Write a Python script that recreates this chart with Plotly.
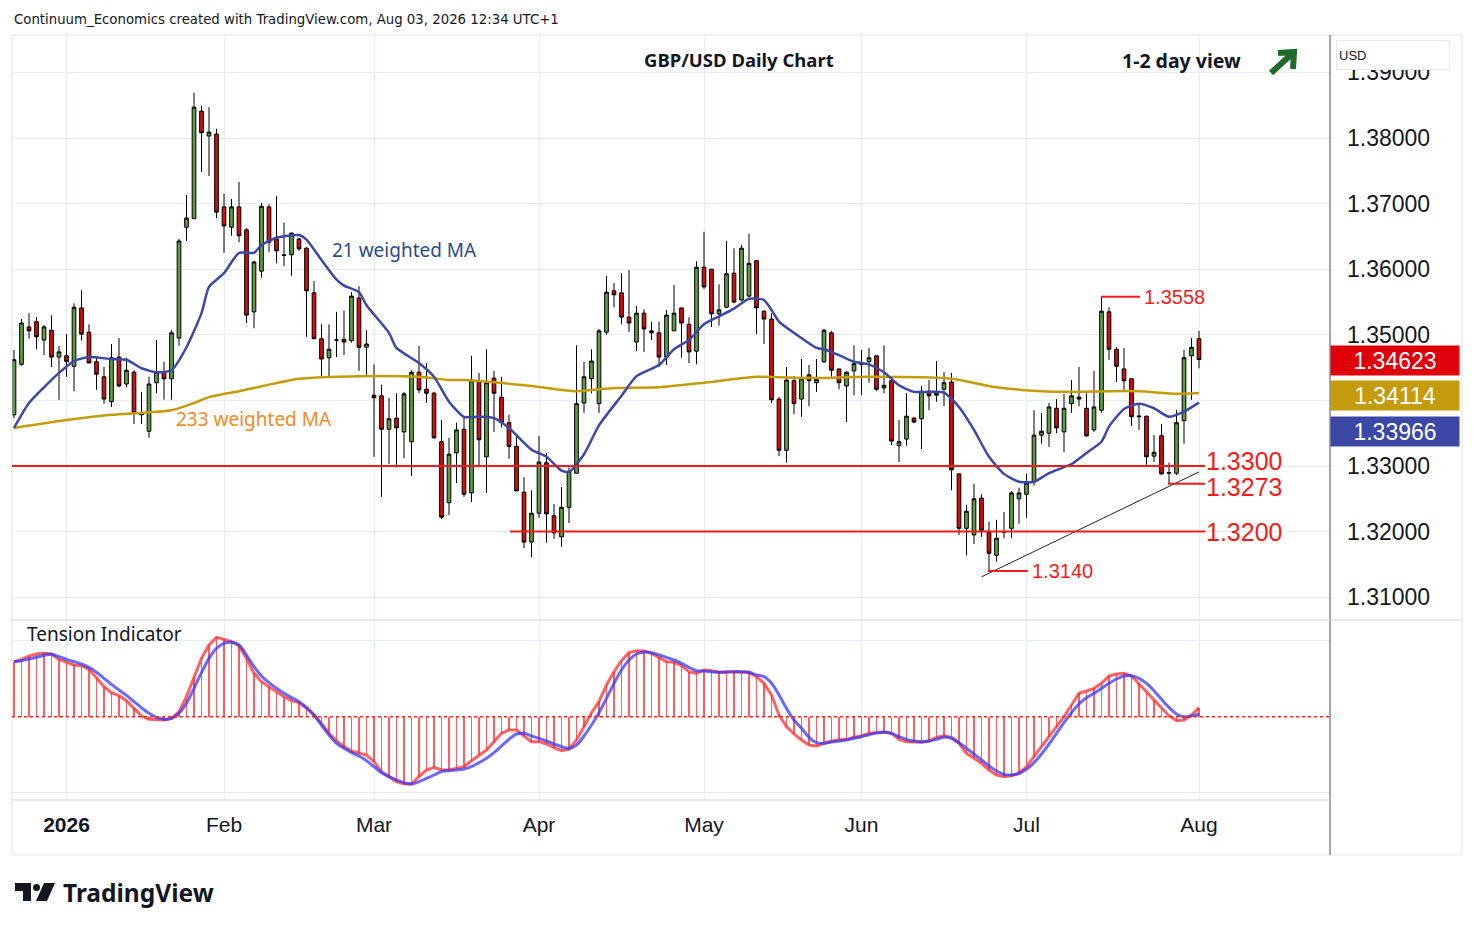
import pandas as pd
import plotly.graph_objects as go

# -----------------------------
# 1. DATA
# -----------------------------
# trading days shown, Dec 22 2025 -> Aug 03 2026 (Christmas / New Year closed)
days = pd.bdate_range("2025-12-22", "2026-08-03")
days = days[~days.isin(pd.to_datetime(["2025-12-25", "2026-01-01"]))]
dates = list(days.strftime("%Y-%m-%d"))

open_ = [1.3378, 1.3455, 1.3512, 1.3520, 1.3492, 1.3507, 1.3466, 1.3468, 1.3452, 1.3541,
         1.3504, 1.3459, 1.3436, 1.3398, 1.3466, 1.3425, 1.3443, 1.3381, 1.3353, 1.3427,
         1.3443, 1.3433, 1.3495, 1.3664, 1.3677, 1.3841, 1.3803, 1.3806, 1.3695, 1.3664,
         1.3695, 1.3660, 1.3535, 1.3597, 1.3695, 1.3646, 1.3622, 1.3622, 1.3646, 1.3632,
         1.3564, 1.3494, 1.3465, 1.3492, 1.3493, 1.3491, 1.3556, 1.3481, 1.3408, 1.3407,
         1.3356, 1.3373, 1.3352, 1.3337, 1.3443, 1.3417, 1.3411, 1.3337, 1.3244, 1.3320,
         1.3356, 1.3259, 1.3430, 1.3314, 1.3434, 1.3405, 1.3366, 1.3330, 1.3260, 1.3184,
         1.3228, 1.3305, 1.3224, 1.3192, 1.3237, 1.3289, 1.3396, 1.3433, 1.3395, 1.3504,
         1.3567, 1.3564, 1.3527, 1.3489, 1.3533, 1.3506, 1.3503, 1.3466, 1.3506, 1.3541,
         1.3516, 1.3475, 1.3603, 1.3600, 1.3532, 1.3542, 1.3594, 1.3553, 1.3559, 1.3613,
         1.3536, 1.3524, 1.3402, 1.3324, 1.3430, 1.3402, 1.3439, 1.3427, 1.3459, 1.3503,
         1.3448, 1.3422, 1.3445, 1.3456, 1.3459, 1.3468, 1.3419, 1.3430, 1.3331, 1.3341,
         1.3373, 1.3372, 1.3414, 1.3408, 1.3417, 1.3428, 1.3288, 1.3205, 1.3195, 1.3251,
         1.3199, 1.3164, 1.3200, 1.3205, 1.3250, 1.3257, 1.3276, 1.3347, 1.3350, 1.3388,
         1.3352, 1.3395, 1.3405, 1.3388, 1.3355, 1.3385, 1.3535, 1.3478, 1.3448, 1.3433,
         1.3375, 1.3376, 1.3315, 1.3346, 1.3289, 1.3289, 1.3369, 1.3468, 1.3494]
high = [1.3477, 1.3524, 1.3533, 1.3527, 1.3515, 1.3530, 1.3483, 1.3501, 1.3548, 1.3568,
        1.3516, 1.3465, 1.3451, 1.3486, 1.3495, 1.3465, 1.3446, 1.3413, 1.3436, 1.3492,
        1.3459, 1.3507, 1.3646, 1.3713, 1.3869, 1.3849, 1.3847, 1.3814, 1.3715, 1.3707,
        1.3733, 1.3663, 1.3613, 1.3701, 1.3699, 1.3712, 1.3671, 1.3656, 1.3648, 1.3634,
        1.3582, 1.3516, 1.3516, 1.3535, 1.3537, 1.3565, 1.3574, 1.3507, 1.3455, 1.3424,
        1.3404, 1.3411, 1.3413, 1.3446, 1.3483, 1.3457, 1.3413, 1.3370, 1.3343, 1.3366,
        1.3375, 1.3468, 1.3442, 1.3478, 1.3445, 1.3436, 1.3378, 1.3347, 1.3283, 1.3263,
        1.3346, 1.3320, 1.3242, 1.3268, 1.3298, 1.3484, 1.3459, 1.3478, 1.3509, 1.3590,
        1.3579, 1.3594, 1.3599, 1.3544, 1.3539, 1.3520, 1.3520, 1.3538, 1.3576, 1.3541,
        1.3527, 1.3612, 1.3657, 1.3600, 1.3577, 1.3643, 1.3632, 1.3637, 1.3654, 1.3614,
        1.3537, 1.3533, 1.3405, 1.3451, 1.3437, 1.3463, 1.3454, 1.3463, 1.3509, 1.3506,
        1.3448, 1.3445, 1.3484, 1.3477, 1.3480, 1.3468, 1.3484, 1.3431, 1.3370, 1.3411,
        1.3375, 1.3422, 1.3431, 1.3460, 1.3443, 1.3442, 1.3288, 1.3241, 1.3273, 1.3257,
        1.3215, 1.3218, 1.3230, 1.3262, 1.3267, 1.3288, 1.3385, 1.3381, 1.3396, 1.3402,
        1.3410, 1.3431, 1.3451, 1.3411, 1.3445, 1.3558, 1.3542, 1.3481, 1.3480, 1.3433,
        1.3393, 1.3376, 1.3347, 1.3364, 1.3305, 1.3385, 1.3477, 1.3495, 1.3506]
low = [1.3373, 1.3453, 1.3494, 1.3478, 1.3469, 1.3451, 1.3401, 1.3436, 1.3414, 1.3491,
       1.3457, 1.3416, 1.3395, 1.3390, 1.3420, 1.3420, 1.3364, 1.3364, 1.3343, 1.3411,
       1.3401, 1.3401, 1.3483, 1.3643, 1.3677, 1.3748, 1.3742, 1.3678, 1.3625, 1.3651,
       1.3641, 1.3518, 1.3510, 1.3587, 1.3626, 1.3609, 1.3605, 1.3590, 1.3628, 1.3497,
       1.3494, 1.3434, 1.3434, 1.3466, 1.3469, 1.3488, 1.3445, 1.3439, 1.3314, 1.3253,
       1.3303, 1.3298, 1.3312, 1.3285, 1.3411, 1.3396, 1.3341, 1.3219, 1.3225, 1.3274,
       1.3253, 1.3245, 1.3298, 1.3259, 1.3352, 1.3359, 1.3311, 1.3262, 1.3175, 1.3161,
       1.3221, 1.3183, 1.3189, 1.3177, 1.3213, 1.3289, 1.3381, 1.3411, 1.3381, 1.3500,
       1.3542, 1.3516, 1.3504, 1.3475, 1.3474, 1.3492, 1.3451, 1.3454, 1.3506, 1.3465,
       1.3457, 1.3455, 1.3570, 1.3512, 1.3514, 1.3541, 1.3548, 1.3551, 1.3557, 1.3501,
       1.3486, 1.3396, 1.3315, 1.3305, 1.3379, 1.3375, 1.3391, 1.3413, 1.3457, 1.3436,
       1.3417, 1.3367, 1.3408, 1.3408, 1.3427, 1.3414, 1.3411, 1.3332, 1.3306, 1.3331,
       1.3365, 1.3326, 1.3385, 1.3398, 1.3391, 1.3263, 1.3195, 1.3164, 1.3181, 1.3192,
       1.3140, 1.3154, 1.3190, 1.3190, 1.3212, 1.3221, 1.3270, 1.3334, 1.3329, 1.3350,
       1.3321, 1.3381, 1.3391, 1.3344, 1.3352, 1.3381, 1.3462, 1.3428, 1.3416, 1.3361,
       1.3355, 1.3302, 1.3306, 1.3286, 1.3273, 1.3286, 1.3334, 1.3401, 1.3449]
close = [1.3462, 1.3518, 1.3506, 1.3497, 1.3512, 1.3466, 1.3474, 1.3459, 1.3542, 1.3501,
         1.3457, 1.3440, 1.3402, 1.3465, 1.3422, 1.3446, 1.3381, 1.3378, 1.3425, 1.3443,
         1.3433, 1.3503, 1.3643, 1.3678, 1.3847, 1.3808, 1.3809, 1.3687, 1.3666, 1.3695,
         1.3651, 1.3530, 1.3611, 1.3696, 1.3641, 1.3628, 1.3621, 1.3655, 1.3631, 1.3567,
         1.3494, 1.3463, 1.3478, 1.3492, 1.3489, 1.3559, 1.3481, 1.3486, 1.3404, 1.3356,
         1.3372, 1.3358, 1.3410, 1.3443, 1.3416, 1.3411, 1.3343, 1.3222, 1.3318, 1.3355,
         1.3257, 1.3430, 1.3340, 1.3427, 1.3411, 1.3366, 1.3330, 1.3262, 1.3184, 1.3228,
         1.3306, 1.3227, 1.3198, 1.3237, 1.3292, 1.3395, 1.3436, 1.3460, 1.3506, 1.3565,
         1.3561, 1.3527, 1.3518, 1.3533, 1.3509, 1.3503, 1.3466, 1.3530, 1.3533, 1.3518,
         1.3474, 1.3603, 1.3573, 1.3532, 1.3538, 1.3593, 1.3550, 1.3632, 1.3609, 1.3541,
         1.3524, 1.3401, 1.3324, 1.3431, 1.3395, 1.3433, 1.3430, 1.3432, 1.3507, 1.3446,
         1.3427, 1.3443, 1.3456, 1.3455, 1.3465, 1.3417, 1.3423, 1.3338, 1.3337, 1.3376,
         1.3367, 1.3414, 1.3407, 1.3411, 1.3427, 1.3294, 1.3205, 1.3231, 1.3250, 1.3202,
         1.3167, 1.3190, 1.3199, 1.3259, 1.3259, 1.3274, 1.3347, 1.3353, 1.3390, 1.3358,
         1.3388, 1.3407, 1.3402, 1.3346, 1.3390, 1.3536, 1.3478, 1.3452, 1.3430, 1.3375,
         1.3376, 1.3314, 1.3321, 1.3288, 1.3290, 1.3366, 1.3465, 1.3481, 1.34623]

# moving averages, sampled along the drawn curves (bar number, value)
wma21_bar = [0, 2, 4, 6, 8, 10, 13, 15, 17, 19, 21, 23, 25, 26, 28, 30, 32, 33, 35, 38,
             39, 41, 43, 44, 46, 47, 50, 51, 54, 56, 58, 60, 62, 64, 66, 69, 71, 73, 74, 76,
             78, 81, 83, 86, 88, 90, 92, 94, 96, 98, 100, 101, 102, 105, 107, 108, 110, 112,
             114, 116, 118, 120, 122, 124, 126, 128, 130, 132, 134, 136, 138, 141, 143, 145,
             146, 148, 150, 152, 154, 156, 158]
wma21_val = [1.3358, 1.3396, 1.3420, 1.3442, 1.3460, 1.3466, 1.3463, 1.3462, 1.3449, 1.3443,
             1.3446, 1.3481, 1.3533, 1.3573, 1.3594, 1.3625, 1.3625, 1.3637, 1.3648, 1.3652,
             1.3645, 1.3614, 1.3584, 1.3575, 1.3565, 1.3545, 1.3503, 1.3480, 1.3457, 1.3436,
             1.3398, 1.3375, 1.3375, 1.3373, 1.3358, 1.3325, 1.3314, 1.3293, 1.3291, 1.3318,
             1.3362, 1.3407, 1.3437, 1.3454, 1.3478, 1.3492, 1.3516, 1.3528, 1.3540, 1.3555,
             1.3553, 1.3538, 1.3520, 1.3495, 1.3480, 1.3478, 1.3469, 1.3459, 1.3455, 1.3443,
             1.3423, 1.3413, 1.3413, 1.3412, 1.3390, 1.3355, 1.3314, 1.3288, 1.3276, 1.3276,
             1.3289, 1.3303, 1.3320, 1.3337, 1.3360, 1.3387, 1.3395, 1.3388, 1.3375, 1.3383,
             1.33966]
wma233_bar = [0, 7, 13, 21, 24, 26, 30, 32, 38, 46, 54, 58, 60, 69, 75, 80, 86, 92, 99, 106,
              114, 125, 131, 137, 141, 146, 150, 155, 158]
wma233_val = [1.3358, 1.3370, 1.3378, 1.3385, 1.3396, 1.3405, 1.3414, 1.3419, 1.3433, 1.3437,
              1.3436, 1.3431, 1.3431, 1.3422, 1.3414, 1.3419, 1.3420, 1.3427, 1.3436, 1.3434,
              1.3436, 1.3433, 1.3420, 1.3414, 1.3413, 1.3414, 1.3414, 1.3410, 1.34114]

# Tension Indicator (red histogram/line and blue signal), arbitrary units
tension = [16.5, 17.2, 18.2, 18.8, 19.0, 18.8, 17.2, 16.3, 15.5, 15.3,
           14.2, 11.7, 9.0, 7.2, 6.3, 4.8, 2.5, 0.2, -0.8, -0.8,
           -1.0, -0.5, 1.5, 6.0, 12.0, 17.5, 21.5, 23.8, 23.2, 22.5,
           21.3, 17.5, 13.0, 10.5, 9.0, 7.5, 6.0, 4.8, 4.2, 2.5,
           0.5, -2.0, -5.0, -7.2, -9.0, -10.3, -10.8, -11.5, -13.5, -16.5,
           -18.0, -19.5, -20.2, -20.2, -18.0, -16.0, -15.2, -16.0, -16.0, -15.5,
           -15.0, -13.2, -11.5, -10.0, -7.5, -5.0, -4.0, -4.0, -5.8, -7.5,
           -7.5, -8.2, -9.3, -10.2, -9.8, -7.0, -3.0, 1.2, 4.5, 9.5,
           13.5, 16.8, 19.2, 19.8, 19.7, 19.0, 17.8, 16.5, 16.3, 15.3,
           13.5, 13.0, 14.0, 13.8, 13.3, 13.5, 13.5, 13.3, 13.3, 12.0,
           10.0, 6.5, 0.5, -3.0, -5.2, -7.0, -8.5, -8.8, -8.0, -7.3,
           -7.0, -6.8, -6.2, -5.8, -5.0, -4.7, -4.6, -5.0, -6.8, -7.5,
           -7.5, -7.7, -7.3, -6.2, -5.7, -6.2, -8.0, -11.0, -12.5, -14.0,
           -16.0, -17.5, -18.0, -17.7, -17.0, -15.0, -12.0, -9.0, -6.0, -3.0,
           0.0, 3.5, 7.0, 7.7, 8.5, 10.0, 12.2, 12.8, 13.0, 12.2,
           10.0, 7.5, 5.0, 2.5, 0.3, -1.2, -1.0, 0.5, 2.7]
signal = [16.5, 16.8, 17.3, 17.8, 18.4, 18.7, 18.0, 17.2, 16.5, 15.8,
          14.8, 13.3, 11.5, 9.7, 8.0, 6.4, 4.5, 2.7, 1.0, -0.2,
          -0.8, -0.5, 1.0, 4.0, 8.5, 13.2, 17.5, 20.5, 22.0, 22.3,
          21.5, 18.5, 15.0, 12.2, 10.2, 8.5, 7.0, 5.7, 4.5, 2.8,
          0.5, -2.5, -5.5, -8.0, -9.5, -10.8, -11.8, -13.2, -15.0, -16.8,
          -18.0, -19.0, -19.8, -20.2, -19.5, -18.5, -17.5, -16.5, -16.2, -16.0,
          -15.7, -15.0, -13.8, -12.5, -10.8, -8.8, -6.8, -5.2, -5.0, -5.8,
          -6.5, -7.3, -8.2, -9.0, -9.5, -8.5, -5.8, -2.5, 1.2, 5.5,
          10.0, 14.0, 17.0, 18.8, 19.4, 19.2, 18.5, 17.8, 17.0, 16.0,
          14.8, 13.8, 13.7, 13.5, 13.3, 13.4, 13.5, 13.5, 13.3, 12.5,
          12.0, 10.0, 6.5, 2.5, -1.0, -3.5, -6.2, -7.8, -8.0, -7.6,
          -7.3, -7.0, -6.5, -6.0, -5.4, -4.9, -4.7, -5.0, -6.0, -6.8,
          -7.3, -7.5, -7.3, -6.8, -6.2, -6.5, -7.8, -9.5, -11.2, -13.0,
          -14.8, -16.3, -17.3, -17.5, -17.0, -15.8, -13.8, -11.2, -8.2, -5.0,
          -1.8, 1.2, 3.8, 5.7, 7.0, 8.5, 10.0, 11.3, 12.2, 12.3,
          11.5, 10.0, 7.8, 5.2, 2.8, 0.8, 0.0, 0.2, 0.8]

# support / resistance levels and the rising trend line
levels = [1.3558, 1.3300, 1.3273, 1.3200, 1.3140]
trend_bar = [129, 158]
trend_val = [1.3131, 1.3291]

price_ticks = [1.31, 1.32, 1.33, 1.34, 1.35, 1.36, 1.37, 1.38, 1.39]
month_names = ["<b>2026</b>", "Feb", "Mar", "Apr", "May", "Jun", "Jul", "Aug"]

# -----------------------------
# 2. PAGE GEOMETRY
# -----------------------------
# the page body has an 8px margin, so the figure is drawn 8px in from the corner
OFF = 8
W, H = 1474 - OFF, 930 - OFF
px = lambda x: (x - OFF) / W
py = lambda y: 1 - (y - OFF) / H
BAR0_X, BAR_W = 14, 7.5            # first bar centre, bar spacing (screen px)
bar_at = lambda x: (x - BAR0_X) / BAR_W

GREEN, RED = "#5e9c43", "#d40d0d"
LEVEL_RED = "#f21b1b"
NAVY, GOLD = "#3c48a6", "#c49b0a"
GRID = "#e6ecf2"
TXT = "#131722"
ARROW = "#1f6b2b"

# first trading day of each month -> time axis ticks
month_ticks = []
for i, d in enumerate(dates):
    if i == 7 or (i > 7 and d[:7] != dates[i - 1][:7]):
        month_ticks.append(d)

# the 1.34 label sits under the price tags on the original, so it is left blank
price_text = ["" if abs(t - 1.34) < 1e-9 else f"{t:.5f}" for t in price_ticks]

# -----------------------------
# 3. FIGURE
# -----------------------------
fig = go.Figure()

fig.add_trace(go.Candlestick(
    x=dates, open=open_, high=high, low=low, close=close,
    increasing=dict(fillcolor=GREEN, line=dict(color="#000000", width=1)),
    decreasing=dict(fillcolor=RED, line=dict(color="#000000", width=1)),
    whiskerwidth=0, showlegend=False, hoverinfo="skip",
    xaxis="x", yaxis="y"))

fig.add_trace(go.Scatter(
    x=[dates[i] for i in wma233_bar], y=wma233_val, mode="lines",
    line=dict(color=GOLD, width=2.5, shape="spline", smoothing=0.6),
    showlegend=False, hoverinfo="skip", xaxis="x", yaxis="y"))
fig.add_trace(go.Scatter(
    x=[dates[i] for i in wma21_bar], y=wma21_val, mode="lines",
    line=dict(color=NAVY, width=2.5, shape="spline", smoothing=0.6),
    showlegend=False, hoverinfo="skip", xaxis="x", yaxis="y"))

fig.add_trace(go.Scatter(
    x=[dates[i] for i in trend_bar], y=trend_val, mode="lines",
    line=dict(color="#222222", width=1),
    showlegend=False, hoverinfo="skip", xaxis="x", yaxis="y"))

# lower pane
fig.add_trace(go.Bar(
    x=dates, y=tension, width=0.22, marker=dict(color="rgba(255,40,40,0.75)", line_width=0),
    showlegend=False, hoverinfo="skip", xaxis="x2", yaxis="y2"))
fig.add_trace(go.Scatter(
    x=dates, y=tension, mode="lines",
    line=dict(color="rgba(255,45,45,0.75)", width=3),
    showlegend=False, hoverinfo="skip", xaxis="x2", yaxis="y2"))
fig.add_trace(go.Scatter(
    x=dates, y=signal, mode="lines",
    line=dict(color="rgba(55,55,250,0.75)", width=3, shape="spline"),
    showlegend=False, hoverinfo="skip", xaxis="x2", yaxis="y2"))

# -----------------------------
# 4. LAYOUT
# -----------------------------
x_dom = [px(12), px(1330)]
x_rng = [bar_at(12), bar_at(1330)]
p_top = 1.38 + (138 - 35) / 6560
p_bot = 1.38 - (620 - 138) / 6560

fig.update_layout(
    width=W, height=H,
    margin=dict(l=0, r=0, t=0, b=0),
    paper_bgcolor="white", plot_bgcolor="white",
    font=dict(family="Liberation Sans, Arial, sans-serif", color=TXT),
    bargap=0,
    xaxis=dict(domain=x_dom, type="category", range=x_rng, anchor="y",
               tickvals=month_ticks, showticklabels=False, ticks="",
               showgrid=True, gridcolor=GRID, zeroline=False, showline=False,
               rangeslider=dict(visible=False), fixedrange=True),
    yaxis=dict(domain=[py(620), py(35)], range=[p_bot, p_top], side="right",
               anchor="x", tickvals=price_ticks, ticktext=price_text,
               tickfont=dict(size=23, color=TXT),
               ticks="", ticklabelstandoff=16,
               showgrid=True, gridcolor=GRID, zeroline=False, showline=False),
    xaxis2=dict(domain=x_dom, type="category", range=x_rng, anchor="y2",
                matches="x", tickvals=month_ticks, ticktext=month_names,
                tickfont=dict(size=21, color=TXT), ticks="", ticklabelstandoff=10,
                showgrid=True, gridcolor=GRID, zeroline=False, showline=False),
    yaxis2=dict(domain=[py(800), py(621)], range=[-25, 28.7], anchor="x2",
                side="right", tickvals=[-22.6, 23.0], showticklabels=False,
                ticks="", showgrid=True, gridcolor=GRID, zeroline=False, showline=False),
)

shapes = []
# frame and pane separators
shapes.append(dict(type="rect", xref="paper", yref="paper", x0=px(12), x1=px(1462),
                   y0=py(855), y1=py(35), line=dict(color="#dfe3ea", width=1)))
shapes.append(dict(type="line", xref="paper", yref="paper", x0=px(1330), x1=px(1330),
                   y0=py(855), y1=py(35), line=dict(color="#4a4d57", width=1)))
shapes.append(dict(type="line", xref="paper", yref="paper", x0=px(12), x1=px(1462),
                   y0=py(620), y1=py(620), line=dict(color="#cfd4dc", width=1)))
shapes.append(dict(type="line", xref="paper", yref="paper", x0=px(12), x1=px(1330),
                   y0=py(800), y1=py(800), line=dict(color="#cfd4dc", width=1)))
# zero line of the lower pane
shapes.append(dict(type="line", xref="paper", yref="y2", x0=px(12), x1=px(1330),
                   y0=0, y1=0, line=dict(color="#ff2020", width=1.5, dash="dot")))

# level lines: start / end of the line, label left edge, label size, label nudge
level_span = {1.3558: (1101, 1140, 1143, 20, 0), 1.3300: (12, 1205, 1205, 25, 5),
              1.3273: (1168, 1205, 1205, 25, -3), 1.3200: (510, 1205, 1205, 25, 0),
              1.3140: (988, 1028, 1031, 20, 0)}
annotations = []
for lv in levels:
    x0, x1, xl, fs, nudge = level_span[lv]
    shapes.append(dict(type="line", xref="x", yref="y", x0=bar_at(x0), x1=bar_at(x1),
                       y0=lv, y1=lv, line=dict(color=LEVEL_RED, width=2)))
    annotations.append(dict(xref="x", yref="y", x=bar_at(xl), y=lv, text=f"{lv:.4f}",
                            showarrow=False, xanchor="left", yanchor="middle", yshift=nudge,
                            height=fs - 5, borderpad=0,
                            font=dict(size=fs, color=LEVEL_RED)))

# price tags on the scale (stacked so they do not overlap, as on the original)
tags = [(close[-1], "#e0000a", 360), (wma233_val[-1], GOLD, 395), (wma21_val[-1], NAVY, 431)]
for val, col, y_tag in tags:
    annotations.append(dict(xref="paper", yref="paper", x=px(1330), y=py(y_tag),
                            text=f"{val:.5f}", showarrow=False,
                            xanchor="left", yanchor="middle",
                            width=124, height=25, borderpad=2, bgcolor=col, align="center",
                            font=dict(size=23, color="white")))

# USD box
annotations.append(dict(xref="paper", yref="paper", x=px(1336), y=py(40), text="USD",
                        showarrow=False, xanchor="left", yanchor="top", align="left",
                        width=108, height=24, borderpad=2, bgcolor="white",
                        bordercolor="#e6e9ef", borderwidth=1,
                        font=dict(size=13, color=TXT)))

# texts
annotations += [
    dict(xref="paper", yref="paper", x=px(12), y=py(19), text="Continuum_Economics created with TradingView.com, Aug 03, 2026 12:34 UTC+1",
         showarrow=False, xanchor="left", yanchor="middle",
         font=dict(family="DejaVu Sans", size=13.3, color=TXT)),
    dict(xref="paper", yref="paper", x=px(739), y=py(59), text="<b>GBP/USD Daily Chart</b>",
         showarrow=False, xanchor="center", yanchor="middle",
         font=dict(family="Noto Sans", size=18.5, color=TXT)),
    dict(xref="paper", yref="paper", x=px(1120), y=py(60), text="<b>1-2 day view</b>",
         showarrow=False, xanchor="left", yanchor="middle",
         font=dict(family="Noto Sans", size=19.5, color=TXT)),
    dict(xref="x", yref="y", x=bar_at(330), y=1.38 - (250 - 138) / 6560, text="21 weighted MA",
         showarrow=False, xanchor="left", yanchor="middle",
         font=dict(family="Noto Sans", size=19, color="#2c4a8c")),
    dict(xref="x", yref="y", x=bar_at(174), y=1.38 - (419 - 138) / 6560, text="233 weighted MA",
         showarrow=False, xanchor="left", yanchor="middle",
         font=dict(family="Noto Sans", size=19, color="#f28a1e")),
    dict(xref="paper", yref="paper", x=px(25), y=py(634), text="Tension Indicator",
         showarrow=False, xanchor="left", yanchor="middle",
         font=dict(family="Noto Sans", size=19, color=TXT)),
    dict(xref="paper", yref="paper", x=px(61), y=py(892), text="<b>TradingView</b>",
         showarrow=False, xanchor="left", yanchor="middle",
         font=dict(family="Noto Sans", size=24.5, color=TXT)),
]

# green "up" arrow next to the view text
arrow_path = (f"M {px(1271)},{py(73)} L {px(1294)},{py(52)} "
              f"M {px(1278)},{py(53)} L {px(1294)},{py(52)} L {px(1293)},{py(69)}")
shapes.append(dict(type="path", xref="paper", yref="paper", path=arrow_path,
                   line=dict(color=ARROW, width=6)))

# TradingView logo mark
shapes += [
    dict(type="rect", xref="paper", yref="paper", x0=px(15), x1=px(31), y0=py(891), y1=py(883),
         fillcolor=TXT, line_width=0),
    dict(type="rect", xref="paper", yref="paper", x0=px(23), x1=px(31), y0=py(901), y1=py(883),
         fillcolor=TXT, line_width=0),
    dict(type="circle", xref="paper", yref="paper", x0=px(33), x1=px(40), y0=py(891), y1=py(884),
         fillcolor=TXT, line_width=0),
    dict(type="path", xref="paper", yref="paper",
         path=f"M {px(44)},{py(883)} L {px(55)},{py(883)} L {px(47)},{py(901)} L {px(36)},{py(901)} Z",
         fillcolor=TXT, line_width=0),
]

fig.update_layout(shapes=shapes, annotations=annotations)

fig.write_html("out.html")
